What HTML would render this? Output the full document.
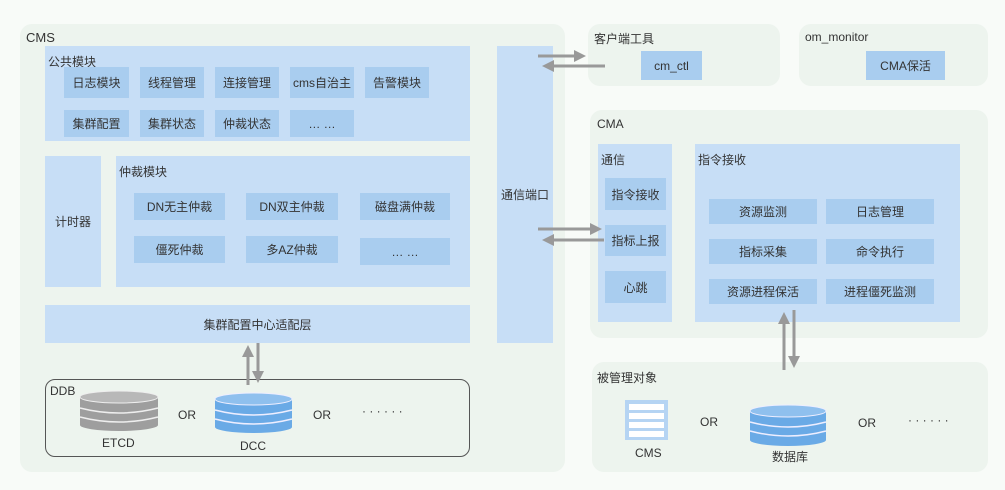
<!DOCTYPE html>
<html><head><meta charset="utf-8"><style>
body{margin:0;width:1005px;height:490px;background:#f8fbf8;position:relative;overflow:hidden;font-family:"Liberation Sans","Noto Sans CJK SC",sans-serif;color:#333}
div{position:absolute;box-sizing:border-box}
.g{background:#edf4ee;border-radius:12px}
.p{background:#c7def6}
.b{background:#a9cdef;font-size:12px;display:flex;align-items:center;justify-content:center;color:#333}
.t{font-size:12px;color:#333;white-space:nowrap}
.c{display:flex;align-items:center;justify-content:center}
</style></head><body>
<div class="g" style="left:20px;top:24px;width:545px;height:448px"></div>
<div class="t" style="left:26px;top:30px;font-size:13px">CMS</div>
<div class="p" style="left:45px;top:46px;width:425px;height:95px"></div>
<div class="t" style="left:48px;top:53px">公共模块</div>
<div class="b" style="left:64px;top:67px;width:65px;height:31px">日志模块</div>
<div class="b" style="left:140px;top:67px;width:64px;height:31px">线程管理</div>
<div class="b" style="left:215px;top:67px;width:64px;height:31px">连接管理</div>
<div class="b" style="left:290px;top:67px;width:64px;height:31px">cms自治主</div>
<div class="b" style="left:365px;top:67px;width:64px;height:31px">告警模块</div>
<div class="b" style="left:64px;top:110px;width:65px;height:27px">集群配置</div>
<div class="b" style="left:140px;top:110px;width:64px;height:27px">集群状态</div>
<div class="b" style="left:215px;top:110px;width:64px;height:27px">仲裁状态</div>
<div class="b" style="left:290px;top:110px;width:64px;height:27px">… …</div>
<div class="p c t" style="left:45px;top:156px;width:56px;height:131px">计时器</div>
<div class="p" style="left:116px;top:156px;width:354px;height:131px"></div>
<div class="t" style="left:119px;top:163px">仲裁模块</div>
<div class="b" style="left:134px;top:193px;width:91px;height:27px">DN无主仲裁</div>
<div class="b" style="left:246px;top:193px;width:92px;height:27px">DN双主仲裁</div>
<div class="b" style="left:360px;top:193px;width:90px;height:27px">磁盘满仲裁</div>
<div class="b" style="left:134px;top:236px;width:91px;height:27px">僵死仲裁</div>
<div class="b" style="left:246px;top:236px;width:92px;height:27px">多AZ仲裁</div>
<div class="b" style="left:360px;top:238px;width:90px;height:27px">… …</div>
<div class="p c t" style="left:45px;top:305px;width:425px;height:38px">集群配置中心适配层</div>
<div class="p c t" style="left:497px;top:46px;width:56px;height:297px">通信端口</div>
<div style="left:45px;top:379px;width:425px;height:78px;border:1px solid #555;border-radius:10px"></div>
<div class="t" style="left:50px;top:384px">DDB</div>
<div class="t" style="left:102px;top:436px">ETCD</div>
<div class="t" style="left:178px;top:408px">OR</div>
<div class="t" style="left:240px;top:439px">DCC</div>
<div class="t" style="left:313px;top:408px">OR</div>
<div class="t" style="left:362px;top:404px">· · · · · ·</div>

<div class="g" style="left:588px;top:24px;width:192px;height:62px"></div>
<div class="t" style="left:594px;top:30px">客户端工具</div>
<div class="b" style="left:641px;top:51px;width:61px;height:29px">cm_ctl</div>
<div class="g" style="left:799px;top:24px;width:189px;height:62px"></div>
<div class="t" style="left:805px;top:30px">om_monitor</div>
<div class="b" style="left:866px;top:51px;width:79px;height:29px">CMA保活</div>

<div class="g" style="left:590px;top:110px;width:398px;height:228px"></div>
<div class="t" style="left:597px;top:117px">CMA</div>
<div class="p" style="left:598px;top:144px;width:74px;height:178px"></div>
<div class="t" style="left:601px;top:151px">通信</div>
<div class="b" style="left:605px;top:178px;width:61px;height:32px">指令接收</div>
<div class="b" style="left:605px;top:225px;width:61px;height:31px">指标上报</div>
<div class="b" style="left:605px;top:271px;width:61px;height:32px">心跳</div>
<div class="p" style="left:695px;top:144px;width:265px;height:178px"></div>
<div class="t" style="left:698px;top:151px">指令接收</div>
<div class="b" style="left:709px;top:199px;width:108px;height:25px">资源监测</div>
<div class="b" style="left:826px;top:199px;width:108px;height:25px">日志管理</div>
<div class="b" style="left:709px;top:239px;width:108px;height:25px">指标采集</div>
<div class="b" style="left:826px;top:239px;width:108px;height:25px">命令执行</div>
<div class="b" style="left:709px;top:279px;width:108px;height:25px">资源进程保活</div>
<div class="b" style="left:826px;top:279px;width:108px;height:25px">进程僵死监测</div>

<div class="g" style="left:592px;top:362px;width:396px;height:110px"></div>
<div class="t" style="left:597px;top:369px">被管理对象</div>
<div class="t" style="left:635px;top:446px">CMS</div>
<div class="t" style="left:700px;top:415px">OR</div>
<div class="t" style="left:772px;top:448px">数据库</div>
<div class="t" style="left:858px;top:416px">OR</div>
<div class="t" style="left:908px;top:413px">· · · · · ·</div>

<svg width="1005" height="490" style="position:absolute;left:0;top:0">
<defs><marker id="a" markerWidth="4" markerHeight="4" refX="2" refY="2" orient="auto"><path d="M0,0L4,2L0,4z" fill="#999"/></marker></defs>
<g stroke="#999" stroke-width="3" fill="none">
<path d="M538,56H580" marker-end="url(#a)"/>
<path d="M605,66H548" marker-end="url(#a)"/>
<path d="M538,229H596" marker-end="url(#a)"/>
<path d="M604,240H548" marker-end="url(#a)"/>
<path d="M248,385V351" marker-end="url(#a)"/>
<path d="M258,343V377" marker-end="url(#a)"/>
<path d="M784,370V318" marker-end="url(#a)"/>
<path d="M794,310V362" marker-end="url(#a)"/>
</g>
<g>
<rect x="80" y="397" width="78" height="28" fill="#9e9e9e"/>
<ellipse cx="119" cy="425" rx="39" ry="6" fill="#9e9e9e"/>
<ellipse cx="119" cy="397" rx="39" ry="6" fill="#b8b8b8" stroke="#eee"/>
<path d="M80,408q39,10 78,0M80,417q39,10 78,0" stroke="#eee" stroke-width="1.5" fill="none"/>
<rect x="215" y="399" width="77" height="28" fill="#6aaae6"/>
<ellipse cx="253.5" cy="427" rx="38.5" ry="6" fill="#6aaae6"/>
<ellipse cx="253.5" cy="399" rx="38.5" ry="6" fill="#8fc0ee" stroke="#eef"/>
<path d="M215,410q38,10 77,0M215,419q38,10 77,0" stroke="#eef" stroke-width="1.5" fill="none"/>
<rect x="750" y="411" width="76" height="29" fill="#6aaae6"/>
<ellipse cx="788" cy="440" rx="38" ry="6" fill="#6aaae6"/>
<ellipse cx="788" cy="411" rx="38" ry="6" fill="#8fc0ee" stroke="#eef"/>
<path d="M750,422q38,10 76,0M750,431q38,10 76,0" stroke="#eef" stroke-width="1.5" fill="none"/>
<rect x="625" y="400" width="43" height="40" fill="#b5d4f3"/>
<g fill="#fff"><rect x="629" y="404" width="35" height="6"/><rect x="629" y="413" width="35" height="6"/><rect x="629" y="422" width="35" height="6"/><rect x="629" y="431" width="35" height="6"/></g>
</g>
</svg>
</body></html>
